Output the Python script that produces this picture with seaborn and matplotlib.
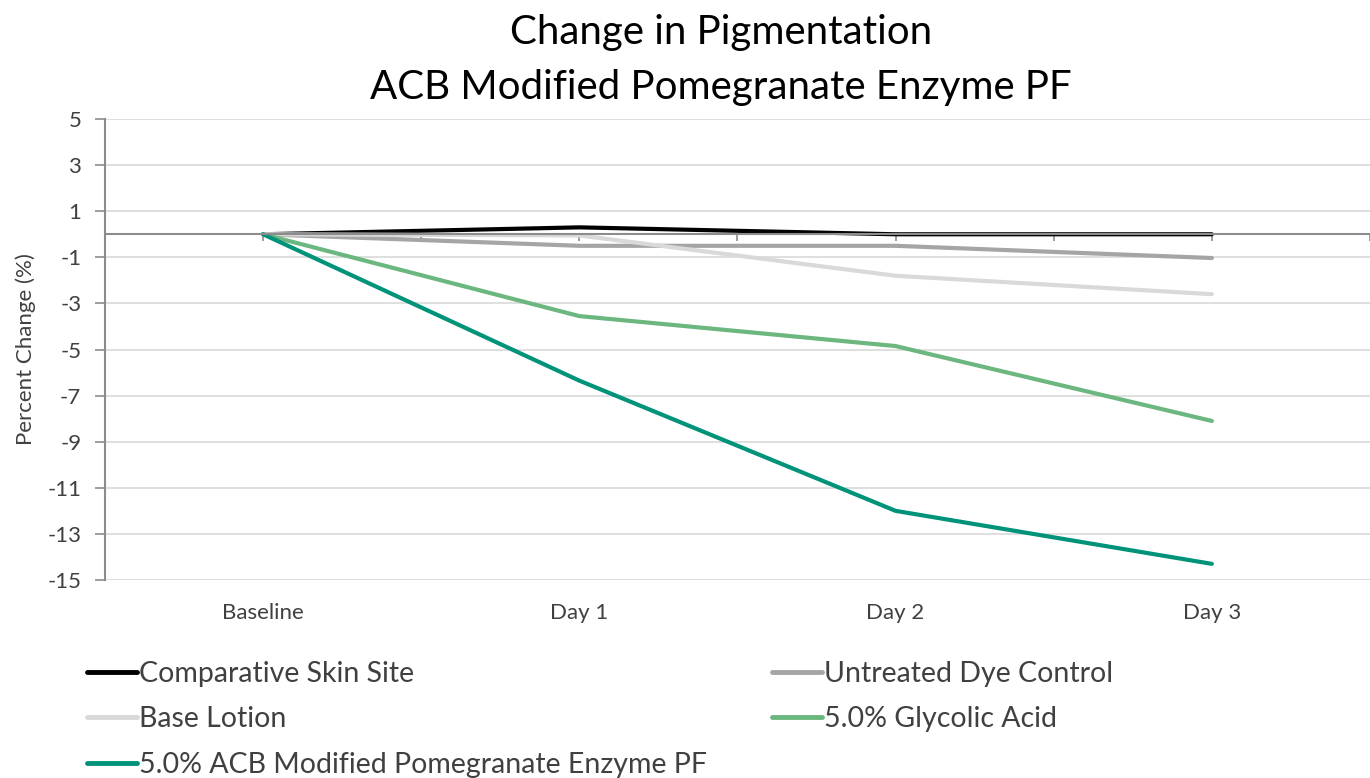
import pandas as pd
import seaborn as sns
import matplotlib.pyplot as plt
from matplotlib.lines import Line2D
import matplotlib.transforms as mtransforms

# values
days = ["Baseline", "Day 1", "Day 2", "Day 3"]
comparative = [0.0, 0.3, 0.0, 0.0]
untreated = [0.0, -0.5, -0.5, -1.03]
base_lotion = [0.0, -0.05, -1.8, -2.6]
glycolic = [0.0, -3.55, -4.85, -8.1]
acb = [0.0, -6.35, -12.0, -14.3]

series_names = ["Comparative Skin Site", "Untreated Dye Control", "Base Lotion",
                "5.0% Glycolic Acid", "5.0% ACB Modified Pomegranate Enzyme PF"]
series_vals = [comparative, untreated, base_lotion, glycolic, acb]
colors = ["#000000", "#a5a5a5", "#d9d9d9", "#6cb77f", "#00937a"]

rows = []
for name, vals in zip(series_names, series_vals):
    for d, v in zip(days, vals):
        rows.append({"Day": d, "Change": v, "Series": name})
df = pd.DataFrame(rows)

sns.set_style("white")
plt.rcParams["font.family"] = ["Lato", "DejaVu Sans"]
plt.rcParams["axes.unicode_minus"] = False

fig = plt.figure(figsize=(13.7, 7.78), dpi=100)
ax = fig.add_axes([0.0766, 0.2545, 0.9234, 0.5925])

sns.lineplot(data=df, x="Day", y="Change", hue="Series", hue_order=series_names,
             palette=colors, linewidth=3, sort=False, legend=False, ax=ax)

ax.set_ylim(-15, 5)
ax.set_yticks(range(-15, 6, 2))
ax.yaxis.grid(True, color="#d9d9d9", linewidth=1.2)
ax.set_axisbelow(True)
ax.tick_params(axis="y", labelsize=16, color="#8c8c8c", length=7, width=1.2,
               direction="out", left=True, pad=10, labelcolor="#404040")

ax.set_xlim(-0.5, 3.48)
ax.set_xticks([x / 2 for x in range(-1, 8)])
ax.set_xticklabels([])
ax.tick_params(axis="x", color="#8c8c8c", length=5, width=1.2, direction="out", bottom=True)

for side in ["top", "right"]:
    ax.spines[side].set_visible(False)
ax.spines["left"].set_color("#8c8c8c")
ax.spines["left"].set_linewidth(1.5)
ax.spines["bottom"].set_position(("data", 0))
ax.spines["bottom"].set_color("#8c8c8c")
ax.spines["bottom"].set_linewidth(1.5)

trans = mtransforms.blended_transform_factory(ax.transData, ax.transAxes)
for i, d in enumerate(days):
    ax.text(i, -0.072, d, transform=trans, ha="center", va="center",
            fontsize=16, color="#404040")

ax.set_xlabel("")
ax.set_ylabel("Percent Change (%)", fontsize=16, color="#404040", labelpad=8)

fig.text(0.526, 0.958, "Change in Pigmentation", ha="center", va="center",
         fontsize=29, color="#000000")
fig.text(0.526, 0.887, "ACB Modified Pomegranate Enzyme PF", ha="center", va="center",
         fontsize=29, color="#000000")

# legend filled row by row like the original
order = [0, 2, 4, 1, 3]
handles = [Line2D([0], [0], color=colors[i], linewidth=3.5, solid_capstyle="round") for i in order]
labels = [series_names[i] for i in order]
fig.legend(handles, labels, loc="upper left", bbox_to_anchor=(0.055, 0.165), ncol=2,
           frameon=False, fontsize=20.5, handlelength=1.75, handletextpad=0.08,
           columnspacing=2.3, labelspacing=0.68, borderaxespad=0, labelcolor="#404040")

fig.savefig("out.png", dpi=100)
